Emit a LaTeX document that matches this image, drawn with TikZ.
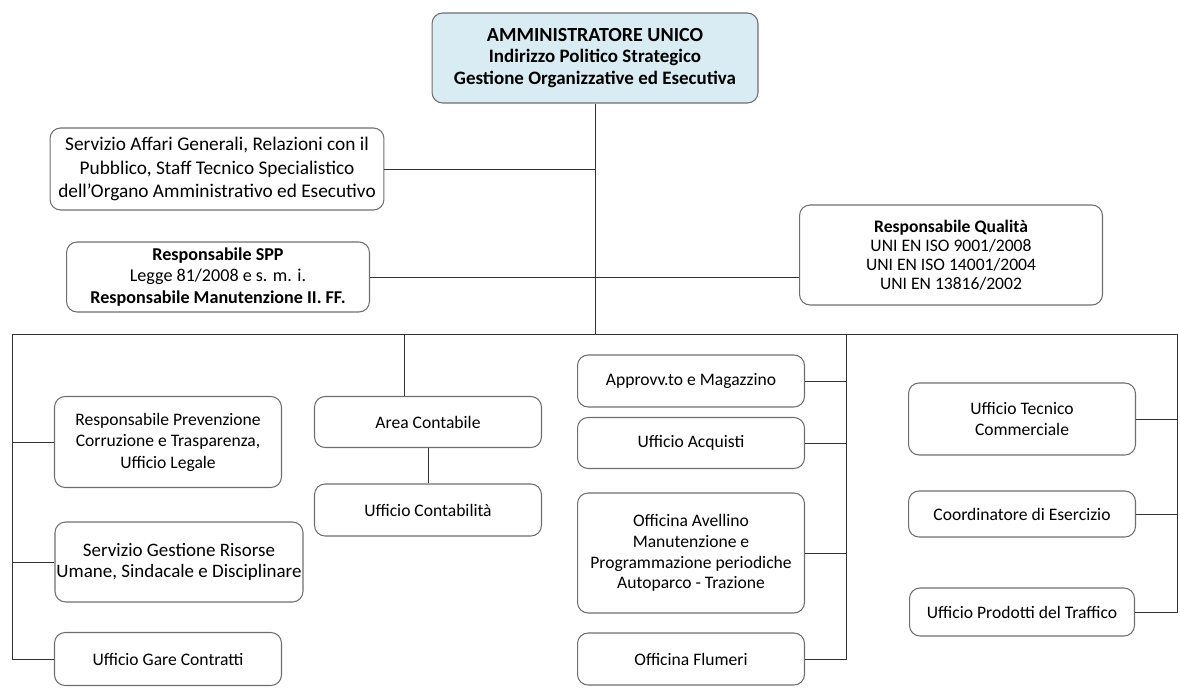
\documentclass[tikz,border=0pt]{standalone}
\usepackage{fontspec}
\setmainfont{Carlito}
\definecolor{topfill}{RGB}{217,236,244}
\definecolor{boxline}{RGB}{110,110,110}
\begin{document}
\begin{tikzpicture}[x=0.02cm,y=-0.02cm,
    ufficio/.style={draw=boxline,line width=0.6pt,rounded corners=6pt,align=center,
      inner sep=0pt,font=\fontsize{10}{11.8}\selectfont},
    capo/.style={ufficio,fill=topfill,font=\bfseries\fontsize{10.8}{12.4}\selectfont},
    linea/.style={black!80,line width=0.55pt}]
    \useasboundingbox (0,0) rectangle (1180,687);
    % vertice
    \node[capo,minimum width=6.52cm,minimum height=1.8cm] (amm) at (595,58)
      {{\fontsize{11.4}{12.4}\selectfont AMMINISTRATORE UNICO}\\Indirizzo Politico Strategico\\Gestione Organizzative ed Esecutiva};
    % staff
    \node[ufficio,minimum width=6.68cm,minimum height=1.64cm,font=\fontsize{11}{13.2}\selectfont] (serv) at (217,169)
      {Servizio Affari Generali, Relazioni con il\\Pubblico, Staff Tecnico Specialistico\\dell’Organo Amministrativo ed Esecutivo};
    \node[ufficio,minimum width=6.06cm,minimum height=1.4cm,font=\fontsize{10.3}{12}\selectfont] (spp) at (218,277)
      {\textbf{Responsabile SPP}\\Legge 81/2008 e s. m. i.\\\textbf{Responsabile Manutenzione II. FF.}};
    \node[ufficio,minimum width=6.06cm,minimum height=2cm,font=\fontsize{10}{10.8}\selectfont] (qual) at (951,255)
      {\textbf{Responsabile Qualità}\\UNI EN ISO 9001/2008\\UNI EN ISO 14001/2004\\UNI EN 13816/2002};
    % colonna sinistra
    \node[ufficio,minimum width=4.54cm,minimum height=1.82cm,font=\fontsize{10}{12.2}\selectfont] (prev) at (168,442)
      {Responsabile Prevenzione\\Corruzione e Trasparenza,\\Ufficio Legale};
    \node[ufficio,minimum width=4.96cm,minimum height=1.6cm,font=\fontsize{10.8}{12.2}\selectfont] (gest) at (179,562)
      {Servizio Gestione Risorse\\Umane, Sindacale e Disciplinare};
    \node[ufficio,minimum width=4.54cm,minimum height=1.06cm] (gare) at (168,659) {Ufficio Gare Contratti};
    % area contabile
    \node[ufficio,minimum width=4.54cm,minimum height=1.02cm] (area) at (428,422) {Area Contabile};
    \node[ufficio,minimum width=4.54cm,minimum height=1.04cm] (cont) at (428,510) {Ufficio Contabilità};
    % colonna centrale
    \node[ufficio,minimum width=4.54cm,minimum height=1.04cm] (appr) at (691,381) {Approvv.to e Magazzino};
    \node[ufficio,minimum width=4.54cm,minimum height=1.02cm] (acq) at (691,443) {Ufficio Acquisti};
    \node[ufficio,minimum width=4.54cm,minimum height=2.4cm] (avel) at (691,553)
      {Officina Avellino\\Manutenzione e\\Programmazione periodiche\\Autoparco - Trazione};
    \node[ufficio,minimum width=4.54cm,minimum height=1.04cm] (flum) at (691,659) {Officina Flumeri};
    % colonna destra
    \node[ufficio,minimum width=4.54cm,minimum height=1.44cm] (tecn) at (1022,419) {Ufficio Tecnico\\Commerciale};
    \node[ufficio,minimum width=4.54cm,minimum height=0.92cm] (coord) at (1022,514) {Coordinatore di Esercizio};
    \node[ufficio,minimum width=4.5cm,minimum height=0.96cm] (prod) at (1022,612) {Ufficio Prodotti del Traffico};
    % linee
    \coordinate (busL) at (12,334);
    \coordinate (busR) at (1177,334);
    \coordinate (areaJ) at (404,334);
    \coordinate (midJ) at (846,334);
    \draw[linea] (busL) -- (busR);
    \draw[linea] (amm.south) -- (amm.south |- busL);
    \draw[linea] (serv.east) -- (serv.east -| amm.south);
    \draw[linea] (spp.east) -- (spp.east -| qual.west);
    \draw[linea] (busL) |- (gare.west);
    \draw[linea] (prev.west) -- (prev.west -| busL);
    \draw[linea] (gest.west) -- (gest.west -| busL);
    \draw[linea] (areaJ) -- (areaJ |- area.north);
    \draw[linea] (area.south) -- (cont.north);
    \draw[linea] (midJ) |- (flum.east);
    \draw[linea] (appr.east) -- (appr.east -| midJ);
    \draw[linea] (acq.east) -- (acq.east -| midJ);
    \draw[linea] (avel.east) -- (avel.east -| midJ);
    \draw[linea] (busR) |- (prod.east);
    \draw[linea] (tecn.east) -- (tecn.east -| busR);
    \draw[linea] (coord.east) -- (coord.east -| busR);
\end{tikzpicture}
\end{document}
